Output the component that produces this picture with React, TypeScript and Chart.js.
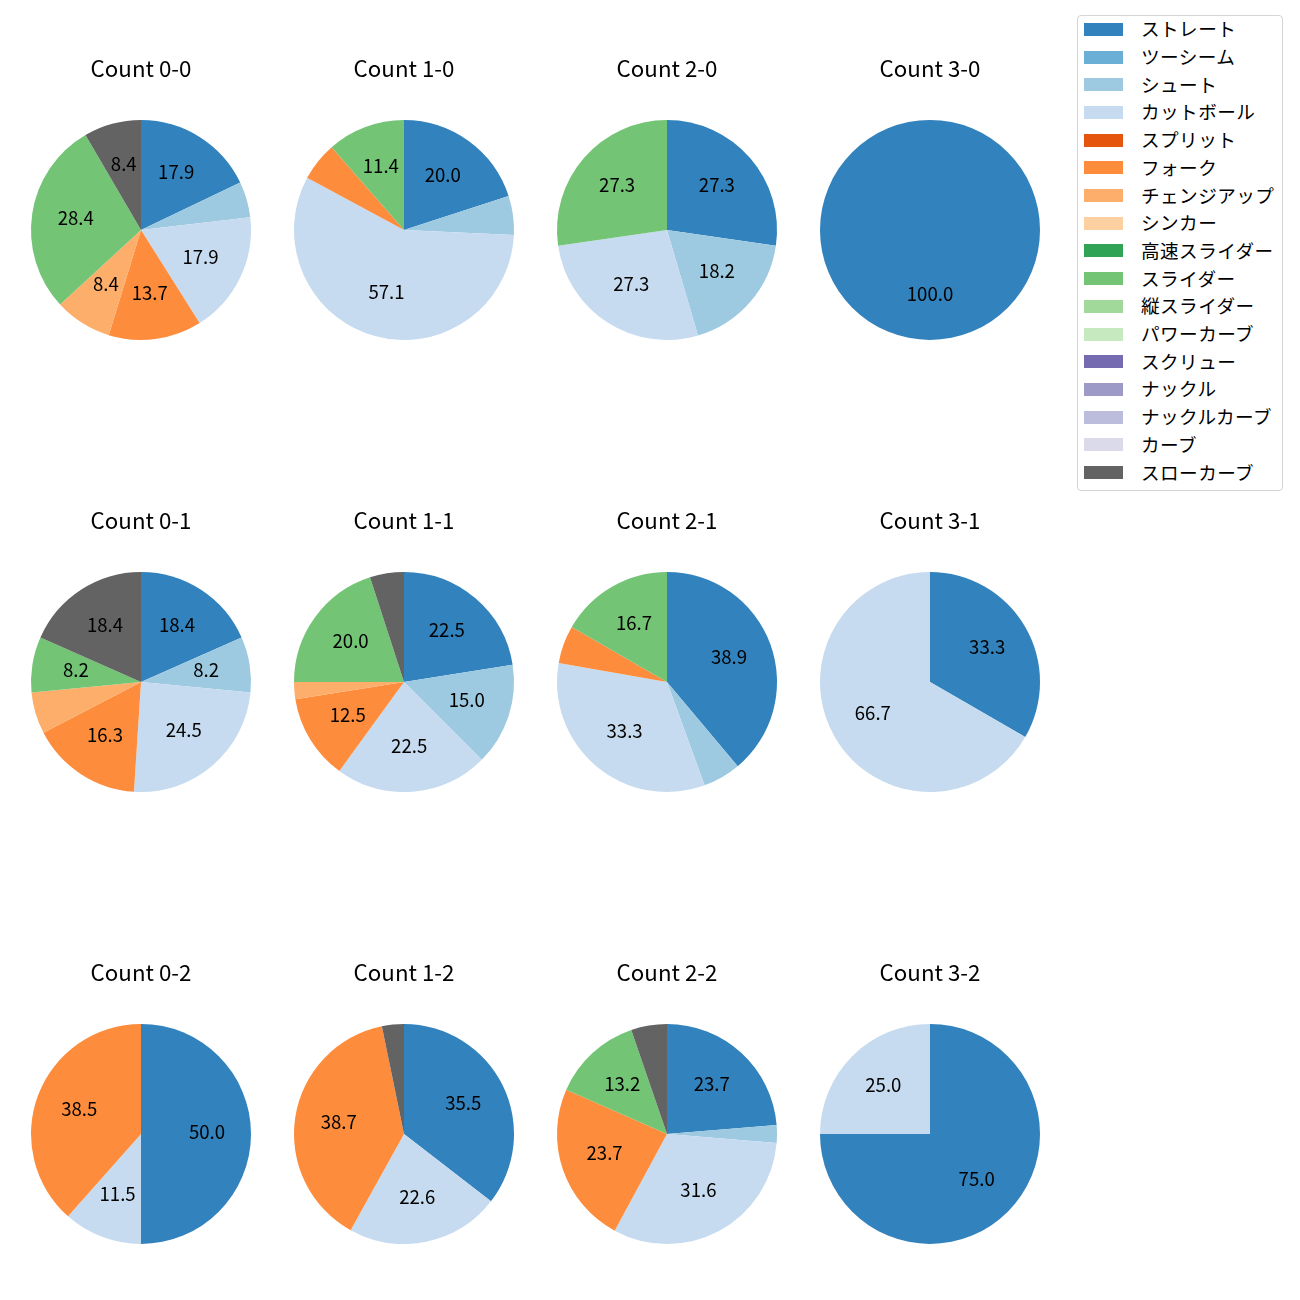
import React, { useEffect, useRef } from 'react';
import { Chart, registerables } from 'chart.js';

Chart.register(...registerables);

const pitchTypes = [
  'ストレート', 'ツーシーム', 'シュート', 'カットボール', 'スプリット', 'フォーク',
  'チェンジアップ', 'シンカー', '高速スライダー', 'スライダー', '縦スライダー',
  'パワーカーブ', 'スクリュー', 'ナックル', 'ナックルカーブ', 'カーブ', 'スローカーブ',
];

const pitchColors = [
  '#3182bd', '#6baed6', '#9ecae1', '#c6dbef', '#e6550d', '#fd8d3c',
  '#fdae6b', '#fdd0a2', '#31a354', '#74c476', '#a1d99b', '#c7e9c0',
  '#756bb1', '#9e9ac8', '#bcbddc', '#dadaeb', '#636363',
];

const panelTitles = [
  'Count 0-0', 'Count 1-0', 'Count 2-0', 'Count 3-0',
  'Count 0-1', 'Count 1-1', 'Count 2-1', 'Count 3-1',
  'Count 0-2', 'Count 1-2', 'Count 2-2', 'Count 3-2',
];

// pitch counts per situation, in pitchTypes order
const count00 = [17, 0, 5, 17, 0, 13, 8, 0, 0, 27, 0, 0, 0, 0, 0, 0, 8];
const count10 = [7, 0, 2, 20, 0, 2, 0, 0, 0, 4, 0, 0, 0, 0, 0, 0, 0];
const count20 = [3, 0, 2, 3, 0, 0, 0, 0, 0, 3, 0, 0, 0, 0, 0, 0, 0];
const count30 = [1, 0, 0, 0, 0, 0, 0, 0, 0, 0, 0, 0, 0, 0, 0, 0, 0];
const count01 = [9, 0, 4, 12, 0, 8, 3, 0, 0, 4, 0, 0, 0, 0, 0, 0, 9];
const count11 = [9, 0, 6, 9, 0, 5, 1, 0, 0, 8, 0, 0, 0, 0, 0, 0, 2];
const count21 = [7, 0, 1, 6, 0, 1, 0, 0, 0, 3, 0, 0, 0, 0, 0, 0, 0];
const count31 = [1, 0, 0, 2, 0, 0, 0, 0, 0, 0, 0, 0, 0, 0, 0, 0, 0];
const count02 = [13, 0, 0, 3, 0, 10, 0, 0, 0, 0, 0, 0, 0, 0, 0, 0, 0];
const count12 = [11, 0, 0, 7, 0, 12, 0, 0, 0, 0, 0, 0, 0, 0, 0, 0, 1];
const count22 = [9, 0, 1, 12, 0, 9, 0, 0, 0, 5, 0, 0, 0, 0, 0, 0, 2];
const count32 = [3, 0, 0, 1, 0, 0, 0, 0, 0, 0, 0, 0, 0, 0, 0, 0, 0];

const panelData = [
  count00, count10, count20, count30,
  count01, count11, count21, count31,
  count02, count12, count22, count32,
];

const FONT = '"Noto Sans CJK JP", "Noto Sans", sans-serif';
const LABEL_SIZE = 18.6;
const TITLE_SIZE = 22.3;
const MIN_PCT = 7;

const colCenters = [141, 404, 667, 930];
const rowCenters = [230, 682, 1134];

const pctLabelPlugin = {
  id: 'pctLabels',
  afterDatasetsDraw(chart: any) {
    const ctx = chart.ctx;
    const ds = chart.data.datasets[0];
    const total = ds.data.reduce((a: number, b: number) => a + b, 0);
    const meta = chart.getDatasetMeta(0);
    ctx.save();
    ctx.font = `${LABEL_SIZE}px ${FONT}`;
    ctx.fillStyle = '#000';
    ctx.textAlign = 'center';
    ctx.textBaseline = 'middle';
    meta.data.forEach((arc: any, i: number) => {
      const v = ds.data[i];
      const pct = (v / total) * 100;
      if (pct < MIN_PCT) return;
      const p = arc.getProps(['x', 'y', 'startAngle', 'endAngle', 'outerRadius'], true);
      const mid = (p.startAngle + p.endAngle) / 2;
      const r = p.outerRadius * 0.6;
      ctx.fillText(pct.toFixed(1), p.x + r * Math.cos(mid), p.y + r * Math.sin(mid) - 2);
    });
    ctx.restore();
  },
};

function PiePanel({ title, values, cx, cy }: { title: string; values: number[]; cx: number; cy: number }) {
  const ref = useRef<HTMLCanvasElement>(null);
  useEffect(() => {
    const chart = new Chart(ref.current as HTMLCanvasElement, {
      type: 'pie',
      data: {
        labels: pitchTypes,
        datasets: [{ data: values, backgroundColor: pitchColors, borderWidth: 0 }],
      },
      options: {
        responsive: false,
        animation: false,
        devicePixelRatio: 1,
        layout: { padding: { left: 10, right: 10, top: 0, bottom: 0 } },
        plugins: {
          legend: { display: false },
          tooltip: { enabled: false },
          title: {
            display: true,
            text: title,
            color: '#000',
            font: { family: FONT, size: TITLE_SIZE, weight: 'normal' as any, lineHeight: 1.2 },
            padding: { top: 15.6, bottom: 37.6 },
          },
        },
      } as any,
      plugins: [pctLabelPlugin as any],
    });
    return () => chart.destroy();
  }, [title, values]);
  return (
    <canvas
      ref={ref}
      width={240}
      height={300}
      style={{ position: 'absolute', left: cx - 120, top: cy - 190, width: 240, height: 300 }}
    />
  );
}

function Legend() {
  const left = 1077;
  const top = 15;
  const rowStart = 14.3;
  const rowStep = 27.7;
  return (
    <div
      style={{
        position: 'absolute',
        left,
        top,
        width: 206,
        height: 476,
        boxSizing: 'border-box',
        border: '1px solid #d5d5d5',
        borderRadius: 4,
        background: '#fff',
        fontFamily: FONT,
      }}
    >
      {pitchTypes.map((name, i) => {
        const cyRow = rowStart + i * rowStep;
        return (
          <React.Fragment key={name}>
            <div
              style={{
                position: 'absolute',
                left: 6,
                top: cyRow - 6.5 - 1,
                width: 39,
                height: 13,
                background: pitchColors[i],
              }}
            />
            <div
              style={{
                position: 'absolute',
                left: 63,
                top: cyRow - 14 - 2,
                height: 28,
                lineHeight: '28px',
                fontSize: LABEL_SIZE,
                letterSpacing: '0.45px',
                color: '#000',
                whiteSpace: 'nowrap',
              }}
            >
              {name}
            </div>
          </React.Fragment>
        );
      })}
    </div>
  );
}

export default function App() {
  return (
    <div style={{ position: 'absolute', left: 0, top: 0, width: 1300, height: 1300, background: '#fff' }}>
      {panelData.map((vals, i) => (
        <PiePanel
          key={panelTitles[i]}
          title={panelTitles[i]}
          values={vals}
          cx={colCenters[i % 4]}
          cy={rowCenters[Math.floor(i / 4)]}
        />
      ))}
      <Legend />
    </div>
  );
}
